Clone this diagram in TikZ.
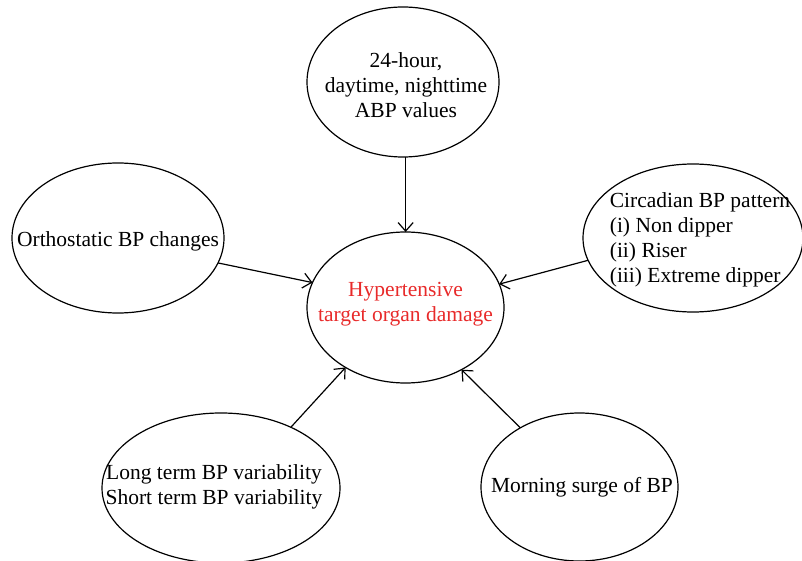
\documentclass[tikz,border=0pt]{standalone}
\usepackage{fontspec}
\setmainfont{Liberation Serif}
\usetikzlibrary{shapes.geometric,arrows.meta}
\definecolor{redtext}{RGB}{232,42,42}
\tikzset{
  oval/.style={draw=black, line width=1.2pt, ellipse, inner sep=0pt, outer sep=0pt},
  lbl/.style={inner sep=0pt, align=center, font=\fontsize{21.5}{25}\selectfont},
  conn/.style={line width=1.2pt, -{Straight Barb[length=8.5pt,width=15pt,line width=1.2pt]}}
}
\begin{document}
\begin{tikzpicture}[x=1pt,y=-1pt]
\useasboundingbox (0,0) rectangle (802,561);
\begin{scope}
\clip (0,0) rectangle (802,561);
\node[oval, minimum width=192pt, minimum height=150pt] (top) at (403,82) {};
\node[oval, minimum width=197pt, minimum height=151pt] (c) at (405.5,307.5) {};
\node[oval, minimum width=212pt, minimum height=150pt] (l) at (118,238) {};
\node[oval, minimum width=220pt, minimum height=148pt] (r) at (693,238) {};
\node[oval, minimum width=238pt, minimum height=150pt] (bl) at (221,488) {};
\node[oval, minimum width=197pt, minimum height=148pt] (br) at (579.5,487) {};
\end{scope}
\node[lbl] (toptxt) at (406,85) {24-hour,\\daytime, nighttime\\ABP values};
\node[lbl, text=redtext] (ctxt) at (405.5,304) {Hypertensive\\target organ damage};
\node[lbl] (ltxt) at (118,241) {Orthostatic BP changes};
\node[lbl, align=left] (rtxt) at (700,240) {Circadian BP pattern\\(i) Non dipper\\(ii) Riser\\(iii) Extreme dipper};
\node[lbl] (bltxt) at (214,487) {Long term BP variability\\Short term BP variability};
\node[lbl] (brtxt) at (582,487) {Morning surge of BP};
\draw[conn] (top.272.3) -- (top.272.3 |- c.north);
\draw[conn] (l.346.9) -- (c.165.6);
\draw[conn] (r.192.8) -- (c.14.5);
\draw[conn] (bl.41.5) -- (c.225);
\draw[conn] (br.135.2) -- (c.312);
\end{tikzpicture}
\end{document}
